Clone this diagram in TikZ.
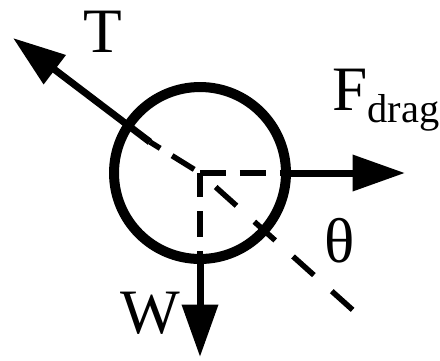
\documentclass[tikz,border=0pt]{standalone}
\usepackage{fontspec}
\setmainfont{Liberation Serif}
\usetikzlibrary{arrows.meta}

\begin{document}
\begin{tikzpicture}[x=0.02cm, y=-0.02cm,
    body/.style={circle, draw, line width=0.2cm, minimum size=3.44cm, inner sep=0pt, outer sep=0pt},
    force/.style={-{Triangle[length=1.05cm, width=0.7cm]}, line width=0.14cm},
    guide/.style={line width=0.11cm, dash pattern=on 0.52cm off 0.28cm},
    lbl/.style={font=\fontsize{36}{40}\selectfont, inner sep=0pt, anchor=base}
]
\useasboundingbox (0,0) rectangle (440,360);
\node[body] (ball) at (200,173) {};
\coordinate (Tin) at (150,142);
\coordinate (Ttip) at (13,38);
\coordinate (Ftip) at (405,173);
\coordinate (Wtip) at (200,357);
\coordinate (thetaend) at (355,312);

\draw[guide] (ball.center) -- (ball.east);
\draw[guide, dash phase=0.84cm] (ball.center) -- (ball.south);
\draw[guide, dash phase=0.28cm] (Tin) -- (ball.center);
\draw[guide, dash pattern=on 0.56cm off 0.48cm, dash phase=0.62cm] (ball.center) -- (thetaend);

\draw[force] (Tin) -- (Ttip);
\draw[force] (ball.east) -- (Ftip);
\draw[force] (ball.south) -- (Wtip);

\node[lbl] (T) at (103,52) {T};
\node[lbl, anchor=base west] (F) at (332,110) {F\raisebox{-7pt}{\fontsize{23}{23}\selectfont drag}};
\node[lbl] (W) at (150,333) {W};
\node[lbl] (theta) at (340,262) {θ};
\end{tikzpicture}
\end{document}
